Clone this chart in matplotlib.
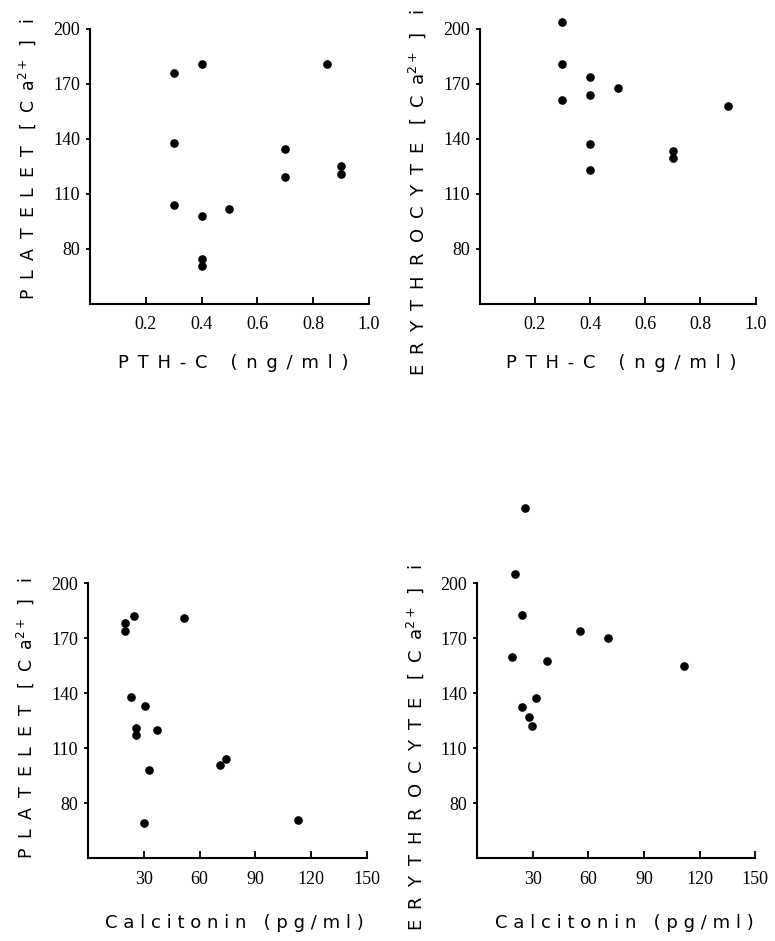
import matplotlib
matplotlib.use("Agg")
import matplotlib.pyplot as plt

# --- data ---
pth_platelet_x = [0.3, 0.3, 0.3, 0.4, 0.4, 0.4, 0.4, 0.5, 0.7, 0.7, 0.85, 0.9, 0.9]
pth_platelet_y = [176, 138, 104, 181, 98, 74.5, 70.5, 102, 134.5, 119.5, 181, 125.5, 121]

pth_eryth_x = [0.3, 0.3, 0.3, 0.4, 0.4, 0.4, 0.4, 0.5, 0.7, 0.7, 0.9]
pth_eryth_y = [204, 181, 161, 174, 164, 137.5, 123, 168, 133.5, 129.5, 158]

ct_platelet_x = [20, 20, 25, 51.7, 23.2, 30.4, 26, 26, 37, 32.7, 71, 74, 30, 112.8]
ct_platelet_y = [178, 174, 182, 181, 138, 133, 121, 117, 120, 98, 101, 104, 69, 71]

ct_eryth_x = [26, 20.6, 24, 18.8, 55.4, 70.6, 37.6, 111.4, 31.6, 24.4, 27.8, 29.8]
ct_eryth_y = [241, 205, 182.5, 159.5, 174, 170, 157.5, 154.5, 137.5, 132.5, 127, 122]

y_ticks = [80, 110, 140, 170, 200]
pth_ticks = [0.2, 0.4, 0.6, 0.8, 1.0]
ct_ticks = [30, 60, 90, 120, 150]

tick_font = "Liberation Serif"
SEP = " \u2005"


def spread(s, sep=SEP):
    return sep.join(s)


def ylab(cell):
    return spread(cell) + "   [" + SEP + "C" + SEP + "a$^{2+}$" + SEP + "]" + "   i"


fig = plt.figure(figsize=(7.75, 9.41), dpi=100)

pth_label = spread("PTH-C", " \u2006") + "    " + spread("(ng/ml)", " \u2006")
ct_label = spread("Calcitonin", " ") + "   " + spread("(pg/ml)", " ")

panels = [
    # axes rect, x, y, xmax, xticks, fmt, cell, xlabel, ylabel pos, xlabel pos, ylabel size
    ([0.116, 0.677, 0.360, 0.2922], pth_platelet_x, pth_platelet_y, 1.0, pth_ticks, "%.1f",
     "PLATELET", pth_label, (-0.226, 0.527), (0.513, -0.215), 12.5),
    ([0.619, 0.677, 0.356, 0.2922], pth_eryth_x, pth_eryth_y, 1.0, pth_ticks, "%.1f",
     "ERYTHROCYTE", pth_label, (-0.228, 0.405), (0.514, -0.215), 13),
    ([0.1135, 0.0882, 0.360, 0.2922], ct_platelet_x, ct_platelet_y, 150, ct_ticks, "%d",
     "PLATELET", ct_label, (-0.226, 0.51), (0.523, -0.236), 12.5),
    ([0.6155, 0.0882, 0.359, 0.2922], ct_eryth_x, ct_eryth_y, 150, ct_ticks, "%d",
     "ERYTHROCYTE", ct_label, (-0.223, 0.40), (0.529, -0.236), 13),
]

for rect, xs, ys, xmax, xt, fmt, cell, xlabel, ypos, xpos, ysize in panels:
    ax = fig.add_axes(rect)
    ax.plot(xs, ys, 'o', color='black', ms=5.2, clip_on=False)
    ax.set_xlim(0, xmax)
    ax.set_ylim(50, 200)
    ax.spines['top'].set_visible(False)
    ax.spines['right'].set_visible(False)
    ax.spines['left'].set_linewidth(1.5)
    ax.spines['bottom'].set_linewidth(1.5)
    ax.set_xticks(xt)
    ax.set_xticklabels([fmt % v for v in xt])
    ax.set_yticks(y_ticks)
    ax.tick_params(axis='x', direction='in', length=5, width=1.3, pad=9)
    ax.tick_params(axis='y', direction='out', length=3, width=1.3, pad=4)
    for lab in ax.get_xticklabels() + ax.get_yticklabels():
        lab.set_fontfamily(tick_font)
        lab.set_fontsize(13)
    ax.text(ypos[0], ypos[1], ylab(cell), transform=ax.transAxes, rotation=90,
            ha='center', va='center', fontsize=ysize)
    ax.text(xpos[0], xpos[1], xlabel, transform=ax.transAxes,
            ha='center', va='center', fontsize=13)

fig.savefig("out.png", dpi=100)
